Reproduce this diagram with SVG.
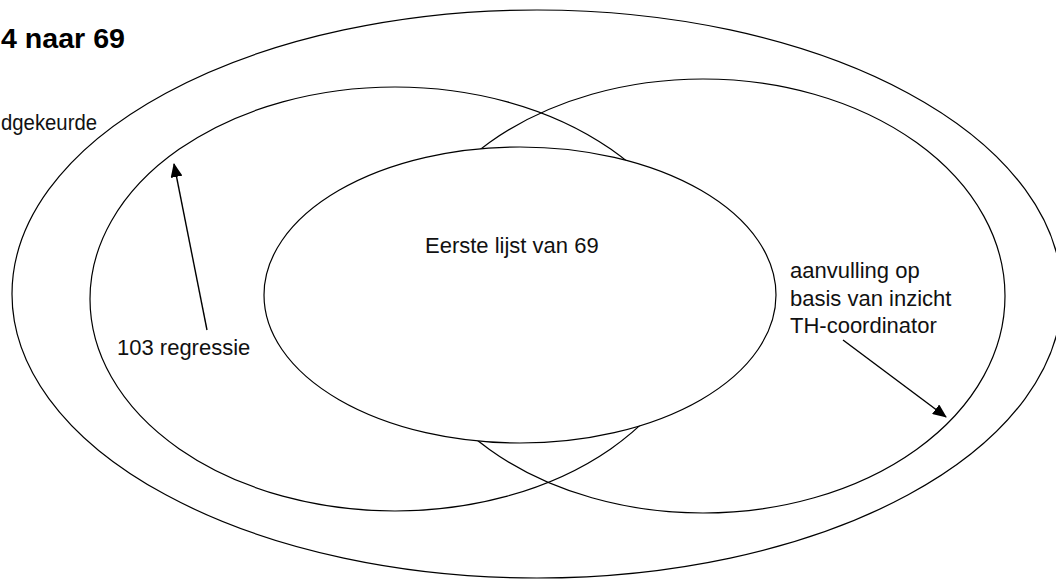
<svg xmlns="http://www.w3.org/2000/svg" width="1056" height="579" viewBox="0 0 1056 579">
  <style>
    .ring { fill: none; stroke: #000; stroke-width: 1.2; }
    .core { fill: #fff; stroke: #000; stroke-width: 1.2; }
    .lbl { font-family: "Liberation Sans", Arial, sans-serif; font-size: 22px; fill: #111; }
    .title { font-family: "Liberation Sans", Arial, sans-serif; font-size: 28px; font-weight: bold; fill: #000; }
    .arrow { stroke: #000; stroke-width: 1.4; fill: none; marker-end: url(#head); }
  </style>
  <defs>
    <marker id="head" markerUnits="userSpaceOnUse" markerWidth="14" markerHeight="12" refX="13" refY="6" orient="auto">
      <path d="M0,0 L14,6 L0,12 Z" fill="#000"/>
    </marker>
  </defs>
  <rect width="1056" height="579" fill="#fff"/>

  <text class="title" x="1" y="48" textLength="124" lengthAdjust="spacingAndGlyphs">4 naar 69</text>

  <g id="all">
    <ellipse class="ring" cx="537" cy="294" rx="525" ry="284"/>
    <text class="lbl" x="1" y="130" textLength="96" lengthAdjust="spacingAndGlyphs">dgekeurde</text>
  </g>

  <g id="regressie">
    <ellipse class="ring" cx="395" cy="299" rx="305" ry="212"/>
    <text class="lbl" x="117" y="355">103 regressie</text>
  </g>

  <g id="aanvulling">
    <ellipse class="ring" cx="703" cy="296" rx="302" ry="217"/>
    <text class="lbl" x="790" y="278">aanvulling op</text>
    <text class="lbl" x="790" y="306">basis van inzicht</text>
    <text class="lbl" x="790" y="333">TH-coordinator</text>
  </g>

  <g id="eerste-lijst">
    <ellipse class="core" cx="520" cy="295" rx="256" ry="148"/>
    <text class="lbl" x="425" y="253">Eerste lijst van 69</text>
  </g>

  <g id="connectors">
    <line class="arrow" x1="207" y1="330" x2="174" y2="164"/>
    <line class="arrow" x1="843" y1="340" x2="946" y2="417"/>
  </g>
</svg>
